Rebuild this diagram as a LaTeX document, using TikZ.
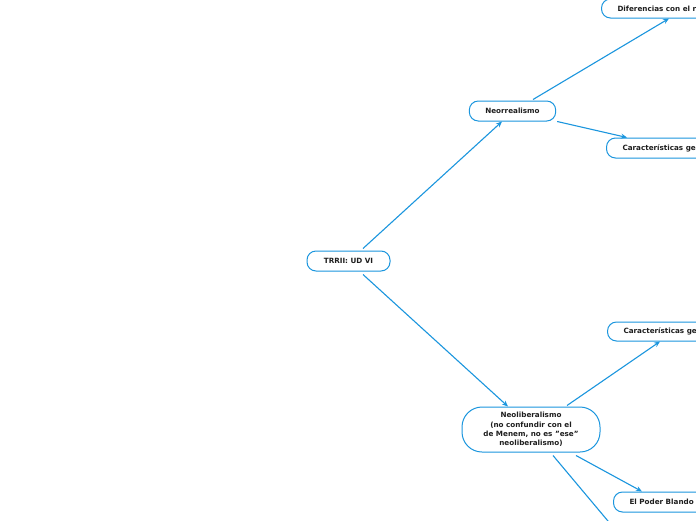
\documentclass[tikz,border=0pt]{standalone}
\usepackage{fontspec}
\setmainfont{DejaVu Sans}
\usetikzlibrary{arrows.meta}
\definecolor{mmblue}{RGB}{27,150,222}
\definecolor{mmtext}{RGB}{30,30,30}
\tikzset{
  topic/.style={draw=mmblue, line width=1pt, fill=white, rounded corners=9pt,
    minimum height=20pt, inner xsep=16pt, inner ysep=2pt, text=mmtext,
    font=\fontsize{7.2}{9.2}\selectfont\bfseries, align=center},
  link/.style={draw=mmblue, line width=1.1pt, -{Stealth[length=6pt,width=5pt]}},
  plainlink/.style={draw=mmblue, line width=1.1pt},
}
\begin{document}
\begin{tikzpicture}[x=1pt,y=-1pt]
\useasboundingbox (0,0) rectangle (696,520);
\clip (0,0) rectangle (696,520);
\fill[white] (0,0) rectangle (696,520);
% nodes
\node[topic, minimum width=83pt] (trr) at (348.5,261) {TRRII: UD VI};
\node[topic, minimum width=85pt] (neo) at (512.5,111) {Neorrealismo};
\node[topic, anchor=west, minimum height=19pt] (dif) at (601,8.5) {Diferencias con el realismo};
\node[topic, anchor=west] (car1) at (606,148) {Características generales};
\node[topic, anchor=west, minimum height=19pt] (car2) at (607,331.5) {Características generales};
\node[topic, minimum width=138pt, minimum height=45pt, rounded corners=20pt] (nlib) at (531,429.5)
  {Neoliberalismo\\(no confundir con el\\de Menem, no es \symbol{34}ese\symbol{34}\\neoliberalismo)};
\node[topic, anchor=west] (poder) at (613,502) {El Poder Blando};
\coordinate (offend) at (613,527);
% connectors
\draw[link] ([xshift=14.5pt,yshift=2pt]trr.north) -- ([xshift=-10.5pt]neo.south);
\draw[link] ([xshift=20.5pt,yshift=1pt]neo.north) -- ([xshift=68pt]dif.south west);
\draw[link] ([xshift=1pt]neo.south east) -- ([xshift=21pt]car1.north west);
\draw[link] ([xshift=14.5pt,yshift=-3pt]trr.south) -- ([xshift=-23pt]nlib.north);
\draw[link] ([xshift=36pt,yshift=1pt]nlib.north) -- ([xshift=53pt]car2.south west);
\draw[link] ([xshift=45pt,yshift=-3pt]nlib.south) -- ([xshift=29pt]poder.north west);
\draw[plainlink] ([xshift=22pt,yshift=-3pt]nlib.south) -- (offend);
\end{tikzpicture}
\end{document}
